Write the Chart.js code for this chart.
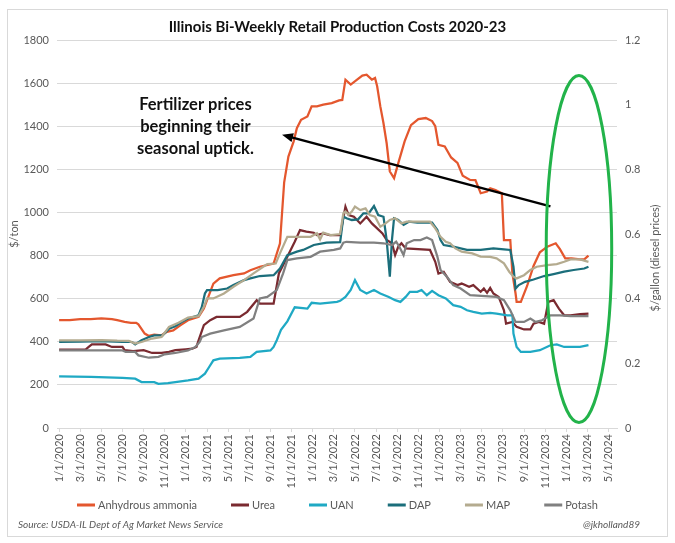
<!DOCTYPE html>
<html>
<head>
<meta charset="utf-8">
<script src="https://cdn.jsdelivr.net/npm/chart.js@4.4.1/dist/chart.umd.min.js"></script>
<style>
  html, body { margin: 0; padding: 0; background: #fff; }
  #wrap { width: 675px; height: 543px; }
</style>
</head>
<body>
<div id="wrap"><canvas id="costChart" width="675" height="543"></canvas></div>
<script>
// x values are months since 1/1/2020, y values are $/ton
const tickMonths = [0, 2, 4, 6, 8, 10, 12, 14, 16, 18, 20, 22, 24, 26, 28, 30, 32, 34, 36, 38, 40, 42, 44, 46, 48, 50, 52];
const tickLabels = ['1/1/2020', '3/1/2020', '5/1/2020', '7/1/2020', '9/1/2020', '11/1/2020',
	'1/1/2021', '3/1/2021', '5/1/2021', '7/1/2021', '9/1/2021', '11/1/2021',
	'1/1/2022', '3/1/2022', '5/1/2022', '7/1/2022', '9/1/2022', '11/1/2022',
	'1/1/2023', '3/1/2023', '5/1/2023', '7/1/2023', '9/1/2023', '11/1/2023',
	'1/1/2024', '3/1/2024', '5/1/2024'];

const seriesNames = ['Anhydrous ammonia', 'Urea', 'UAN', 'DAP', 'MAP', 'Potash'];
const seriesColors = ['#e4572e', '#7a2a30', '#1fa9c4', '#1b6e7b', '#b4ab8f', '#808080'];

const ammonia = [[0,500],[1,500],[2,505],[3,505],[4,508],[5,505],[5.5,500],[6.2,492],[6.8,488],[7.3,488],[7.5,481],[8.1,438],[8.5,427],[9,433],[9.7,430],[10.2,446],[10.8,453],[11.5,477],[12.2,500],[13.2,516],[13.7,554],[14,593],[14.6,670],[15.2,694],[16.5,709],[17.5,717],[18.1,732],[19,748],[20.3,763],[20.9,856],[21.3,1140],[21.7,1259],[22.2,1330],[22.5,1391],[22.9,1430],[23.5,1445],[23.9,1492],[24.4,1492],[25,1500],[25.8,1507],[26.5,1520],[26.8,1522],[27.1,1616],[27.6,1593],[28.2,1616],[28.7,1635],[29.1,1639],[29.6,1616],[29.9,1624],[30.1,1585],[30.4,1492],[30.7,1414],[31,1321],[31.3,1190],[31.7,1159],[32.1,1229],[32.7,1330],[33.3,1405],[34,1433],[34.7,1438],[35.3,1424],[35.6,1400],[35.9,1314],[36.5,1306],[37.1,1255],[37.7,1230],[38.2,1170],[38.9,1151],[39.4,1150],[39.9,1089],[40.5,1097],[40.8,1112],[41.3,1104],[41.9,1089],[42.1,872],[42.7,872],[42.9,717],[43.2,624],[43.3,585],[43.7,585],[44.3,660],[44.9,752],[45.5,815],[46.2,841],[47,857],[47.4,830],[47.9,787],[48.5,787],[49.3,782],[49.7,782],[50.1,800]];
const urea = [[0,364],[2.5,364],[2.8,376],[3.1,388],[4.4,388],[5,376],[6,376],[6.2,361],[7,357],[8,361],[8.8,348],[9.7,348],[10.4,353],[11,361],[12,365],[12.6,368],[13,376],[13.2,407],[13.7,477],[14.3,500],[14.9,515],[17.1,515],[17.8,539],[18.7,593],[19,577],[20.3,577],[20.8,717],[21.6,794],[22.3,864],[22.8,918],[23.4,911],[24.1,906],[24.4,895],[25,903],[25.6,895],[26.6,895],[27.1,1027],[27.4,988],[27.9,980],[28.5,949],[29.1,980],[29.6,949],[30.1,926],[30.6,903],[31,872],[31.5,857],[31.8,802],[32.1,841],[32.4,857],[32.8,833],[35.1,826],[35.6,771],[35.9,717],[36.4,725],[37,678],[37.7,663],[38.1,670],[38.8,655],[39.2,663],[39.9,632],[40.2,647],[40.5,627],[40.8,650],[41.1,624],[41.6,608],[42.1,546],[42.3,484],[42.9,492],[43.3,469],[44,457],[44.6,457],[44.9,484],[45.4,492],[45.9,484],[46.3,585],[46.8,593],[47.3,554],[47.8,523],[48.4,523],[49.3,528],[50.1,531]];
const uan = [[0,240],[3,237],[6,233],[7.2,229],[7.8,213],[9,213],[9.4,205],[10.3,208],[11,213],[12.2,221],[13.2,229],[13.8,252],[14.2,283],[14.6,314],[15.2,322],[17.1,325],[18.1,330],[18.7,353],[20,360],[20.3,376],[20.6,407],[21,455],[21.6,495],[22.3,560],[23.5,554],[23.9,581],[24.7,577],[26.3,585],[26.6,590],[27.1,608],[27.6,640],[28,686],[28.5,640],[29.1,624],[29.8,640],[30.4,624],[31.2,608],[31.8,593],[32.3,585],[32.8,608],[33.2,632],[33.9,632],[34.3,640],[34.8,616],[35.3,636],[35.9,616],[36.6,601],[37.3,570],[38,562],[38.6,546],[39.2,539],[40,531],[40.8,534],[41.4,531],[42.4,523],[42.9,523],[43,438],[43.3,376],[43.7,353],[44.6,353],[45.5,361],[46.5,384],[47.1,388],[47.8,376],[49.3,376],[50.1,384]];
const dap = [[0,399],[2,401],[4,403],[6,400],[6.9,399],[7.2,388],[7.8,407],[8.5,422],[9,430],[9.8,430],[10.4,461],[11,472],[11.6,492],[12.2,508],[13.2,523],[13.5,560],[13.8,624],[14,640],[15,640],[15.9,647],[16.5,663],[17.5,686],[18.1,694],[19,705],[20.3,709],[20.9,740],[21.6,802],[22.5,818],[23.1,826],[24.1,849],[25.3,860],[26.6,862],[26.9,981],[27.2,973],[27.7,965],[28.3,968],[28.8,996],[29.3,996],[29.8,1030],[30.2,988],[30.7,980],[31,872],[31.3,702],[31.5,872],[31.7,973],[32.1,965],[32.6,942],[33.1,957],[33.9,953],[35.3,953],[35.8,919],[36.1,872],[36.4,849],[37.3,841],[38.6,826],[39.9,826],[41.1,833],[42.1,829],[42.7,826],[43,748],[43.2,647],[43.5,663],[44.1,678],[44.9,689],[45.9,705],[46.8,714],[47.8,725],[48.7,733],[49.7,740],[50.1,748]];
const map = [[0,407],[2,407],[4,408],[5.5,405],[6.6,404],[7.2,392],[7.8,399],[8.8,415],[9.7,422],[10.4,469],[11.3,488],[12.2,512],[13.2,519],[13.7,562],[14,601],[14.6,601],[15.6,624],[16.5,655],[17.5,686],[18.4,717],[19.7,760],[20.5,763],[20.9,810],[21.6,887],[22.8,887],[23.8,887],[24.4,903],[24.7,875],[25,906],[25.7,895],[26.6,900],[26.9,996],[27.1,1004],[27.4,990],[27.7,1004],[28,1027],[28.5,1011],[29,1019],[29.4,988],[29.9,980],[30.4,934],[30.9,949],[31.3,965],[31.8,973],[32.4,949],[32.9,957],[35.1,957],[35.6,926],[36.1,887],[36.6,864],[37,857],[37.5,833],[38.1,818],[39.1,810],[39.9,795],[40.8,794],[41.4,787],[42.1,764],[42.6,725],[43,702],[43.3,694],[44,709],[44.6,733],[45.2,748],[46.2,756],[47.1,760],[47.8,771],[48.4,782],[49.3,782],[50.1,771]];
const potash = [[0,360],[6,360],[6.3,353],[7.2,353],[7.5,337],[8.5,326],[9.4,330],[10,342],[11,348],[12.2,360],[12.9,376],[13.3,399],[13.5,422],[14.3,438],[15.6,453],[17.1,469],[18.4,508],[19,601],[19.7,608],[20.6,640],[21.2,717],[21.6,779],[22.5,787],[23.8,794],[24.7,818],[26,826],[26.6,833],[26.9,860],[27.2,864],[28.5,860],[29.8,860],[30.7,857],[31.5,849],[31.9,864],[32.2,841],[32.6,802],[32.9,857],[33.6,872],[34.2,872],[34.8,884],[35.3,872],[35.8,795],[36.1,733],[36.7,702],[37.3,663],[38,647],[38.9,616],[41.4,608],[42.1,593],[42.7,546],[43.2,492],[44,492],[44.6,508],[45.1,492],[45.7,500],[46.5,523],[47.4,523],[48.4,519],[50.1,519]];

const seriesData = [ammonia, urea, uan, dap, map, potash];

const FONT = 'Lato, "Open Sans", sans-serif';
const TEXT_GREY = '#595959';

// Callout, arrow, circle, right axis title, legend and source line
const overlayPlugin = {
	id: 'overlay',
	beforeDraw(chart) {
		const { ctx, width, height } = chart;
		ctx.save();
		ctx.fillStyle = '#fff';
		ctx.fillRect(0, 0, width, height);
		ctx.strokeStyle = '#d9d9d9';
		ctx.lineWidth = 1;
		ctx.strokeRect(7.5, 9.5, width - 15, height - 16);
		ctx.restore();
	},
	afterDraw(chart) {
		const { ctx, width } = chart;
		const x = chart.scales.x;
		const y = chart.scales.y;
		ctx.save();

		// callout text
		ctx.fillStyle = '#111';
		ctx.font = 'bold 16.5px ' + FONT;
		ctx.textAlign = 'center';
		ctx.textBaseline = 'middle';
		const tx = x.getPixelForValue(12.9);
		ctx.fillText('Fertilizer prices', tx, y.getPixelForValue(1500));
		ctx.fillText('beginning their', tx, y.getPixelForValue(1400));
		ctx.fillText('seasonal uptick.', tx, y.getPixelForValue(1298));

		// arrow
		const x0 = x.getPixelForValue(46.5), y0 = y.getPixelForValue(1028);
		const x1 = x.getPixelForValue(21.1), y1 = y.getPixelForValue(1360);
		const ang = Math.atan2(y1 - y0, x1 - x0);
		ctx.strokeStyle = '#000';
		ctx.lineWidth = 2.5;
		ctx.beginPath();
		ctx.moveTo(x0, y0);
		ctx.lineTo(x1 - 8 * Math.cos(ang), y1 - 8 * Math.sin(ang));
		ctx.stroke();
		ctx.fillStyle = '#000';
		ctx.beginPath();
		ctx.moveTo(x1, y1);
		ctx.lineTo(x1 - 11 * Math.cos(ang) + 4.5 * Math.sin(ang), y1 - 11 * Math.sin(ang) - 4.5 * Math.cos(ang));
		ctx.lineTo(x1 - 11 * Math.cos(ang) - 4.5 * Math.sin(ang), y1 - 11 * Math.sin(ang) + 4.5 * Math.cos(ang));
		ctx.closePath();
		ctx.fill();

		// green ellipse
		const cx = x.getPixelForValue(49.2), cy = y.getPixelForValue(830);
		const rx = x.getPixelForValue(49.2 + 3.1) - cx;
		const ry = cy - y.getPixelForValue(830 + 805);
		ctx.strokeStyle = '#22b34a';
		ctx.lineWidth = 3;
		ctx.beginPath();
		ctx.ellipse(cx, cy, rx, ry, 0, 0, Math.PI * 2);
		ctx.stroke();

		// right axis title, reads bottom to top
		ctx.fillStyle = TEXT_GREY;
		ctx.font = '11px ' + FONT;
		ctx.save();
		ctx.translate(655, 258);
		ctx.rotate(-Math.PI / 2);
		ctx.fillText('$/gallon (diesel prices)', 0, 0);
		ctx.restore();

		// legend
		const lineW = 18, gap = 3, spacing = 34;
		const widths = seriesNames.map(n => lineW + gap + ctx.measureText(n).width);
		const total = widths.reduce((a, b) => a + b, 0) + spacing * (widths.length - 1);
		let lx = width / 2 - total / 2;
		const ly = 505;
		ctx.textAlign = 'left';
		seriesNames.forEach((name, i) => {
			ctx.fillStyle = seriesColors[i];
			ctx.fillRect(lx, ly - 1.5, lineW, 3);
			ctx.fillStyle = TEXT_GREY;
			ctx.fillText(name, lx + lineW + gap, ly);
			lx += widths[i] + spacing;
		});

		// source line
		ctx.font = 'italic 10px ' + FONT;
		ctx.fillStyle = TEXT_GREY;
		ctx.fillText('Source: USDA-IL Dept of Ag Market News Service', 18, 525);
		ctx.textAlign = 'right';
		ctx.fillText('@jkholland89', 640, 525);

		ctx.restore();
	}
};

const datasets = seriesData.map((pts, i) => ({
	label: seriesNames[i],
	data: pts.map(p => ({ x: p[0], y: p[1] })),
	borderColor: seriesColors[i],
	backgroundColor: seriesColors[i],
	borderWidth: 2.25,
	pointRadius: 0,
	tension: 0,
	order: seriesNames.length - i
}));

new Chart(document.getElementById('costChart'), {
	type: 'line',
	data: { datasets },
	options: {
		responsive: false,
		animation: false,
		events: [],
		layout: { padding: 0 },
		plugins: {
			legend: { display: false },
			tooltip: { enabled: false },
			title: {
				display: true,
				text: 'Illinois Bi-Weekly Retail Production Costs 2020-23',
				color: '#111',
				font: { family: FONT, size: 15, weight: 'bold' },
				padding: { top: 18, bottom: 4 }
			}
		},
		scales: {
			x: {
				type: 'linear',
				min: -0.2,
				max: 52.8,
				afterBuildTicks: scale => { scale.ticks = tickMonths.map(v => ({ value: v })); },
				afterFit: scale => { scale.height = 115; },
				grid: { drawOnChartArea: false, drawTicks: true, tickLength: 4, color: '#d9d9d9' },
				border: { display: true, color: '#d9d9d9' },
				ticks: {
					autoSkip: false,
					minRotation: 90,
					maxRotation: 90,
					padding: 2,
					color: TEXT_GREY,
					font: { family: FONT, size: 11 },
					callback: value => tickLabels[tickMonths.indexOf(value)]
				}
			},
			y: {
				position: 'left',
				min: 0,
				max: 1800,
				afterFit: scale => { scale.width = 57; },
				grid: { color: '#d9d9d9', drawTicks: false },
				border: { display: false },
				ticks: {
					stepSize: 200,
					padding: 8,
					color: TEXT_GREY,
					font: { family: FONT, size: 11 },
					callback: value => String(value)
				},
				title: {
					display: true,
					text: '$/ton',
					color: TEXT_GREY,
					font: { family: FONT, size: 11 },
					padding: { top: 8, bottom: 0 }
				}
			},
			y1: {
				position: 'right',
				min: 0,
				max: 1.2,
				afterFit: scale => { scale.width = 58; },
				grid: { drawOnChartArea: false, drawTicks: false },
				border: { display: false },
				ticks: {
					stepSize: 0.2,
					padding: 8,
					color: TEXT_GREY,
					font: { family: FONT, size: 11 },
					callback: value => String(Math.round(value * 10) / 10)
				}
			}
		}
	},
	plugins: [overlayPlugin]
});
</script>
</body>
</html>
